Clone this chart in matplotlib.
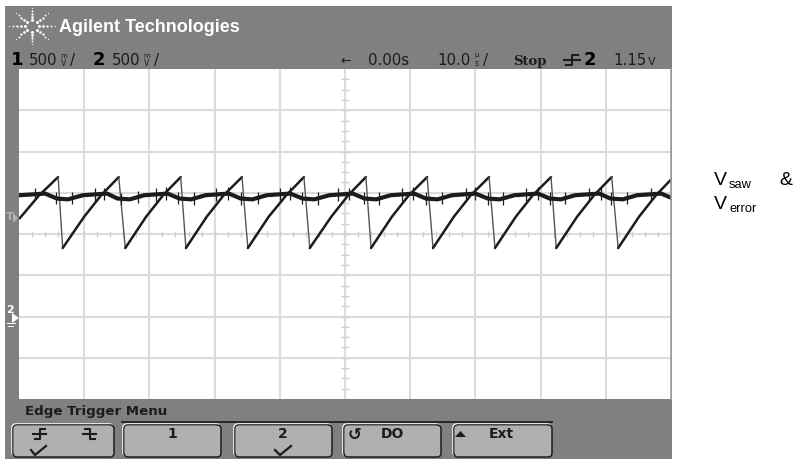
import matplotlib
matplotlib.use('Agg')
import matplotlib.pyplot as plt
from matplotlib.patches import FancyBboxPatch, Rectangle, Polygon
import numpy as np

# Saw trace: microseconds / volts around screen centre
saw_t = [-49.9, -46.9, -44.0, -43.3, -40.0, -37.4, -34.7, -33.7, -30.5, -27.9,
         -25.2, -24.4, -21.2, -18.6, -15.8, -14.9, -11.7, -9.0, -6.3, -5.4,
         -2.1, 0.5, 3.2, 4.0, 7.2, 9.8, 12.6, 13.5, 16.7, 19.3,
         22.1, 23.0, 26.2, 28.8, 31.6, 32.4, 35.6, 38.2, 40.9, 41.9,
         45.1, 47.7, 50.0]
saw_v = [0.19, 0.47, 0.69, -0.17, 0.21, 0.47, 0.69, -0.17, 0.21, 0.47,
         0.69, -0.17, 0.21, 0.47, 0.69, -0.17, 0.21, 0.47, 0.69, -0.17,
         0.21, 0.47, 0.69, -0.17, 0.21, 0.47, 0.69, -0.17, 0.21, 0.47,
         0.69, -0.17, 0.21, 0.47, 0.69, -0.17, 0.21, 0.47, 0.69, -0.17,
         0.21, 0.47, 0.66]
valley_idx = [3, 7, 11, 15, 19, 23, 27, 31, 35, 39]

# Error trace: nearly flat, short dip just after every saw peak
err_t = [-49.9, -46.0, -44.2, -42.5, -40.2, -36.5, -34.9, -33.0, -30.8, -27.2,
         -25.4, -23.6, -21.4, -17.8, -16.0, -14.2, -12.0, -8.4, -6.5, -4.7,
         -2.4, 1.2, 3.0, 4.8, 7.0, 10.6, 12.4, 14.2, 16.4, 20.0,
         21.9, 23.7, 26.0, 29.6, 31.4, 33.1, 35.3, 39.0, 40.7, 42.6,
         44.8, 48.5, 50.0]
err_v = [0.47, 0.49, 0.43, 0.42, 0.47, 0.49, 0.43, 0.42, 0.47, 0.49,
         0.43, 0.42, 0.47, 0.49, 0.43, 0.42, 0.47, 0.49, 0.43, 0.42,
         0.47, 0.49, 0.43, 0.42, 0.47, 0.49, 0.43, 0.42, 0.47, 0.49,
         0.43, 0.42, 0.47, 0.49, 0.43, 0.42, 0.47, 0.49, 0.43, 0.42,
         0.47, 0.49, 0.44]
spike_t = [-47.6, -44.3, -41.9, -38.4, -37.0, -34.4, -31.7, -29.0, -27.4, -25.6,
           -23.2, -19.8, -18.0, -15.9, -13.4, -10.0, -8.4, -6.6, -4.2, -1.0,
           0.6, 2.9, 5.2, 8.8, 10.4, 12.4, 14.9, 18.6, 20.0, 21.9,
           24.2, 27.8, 29.6, 31.4, 33.8, 37.4, 39.2, 40.8, 43.2, 46.9]

menu_labels = ['', '1', '2', 'DO', 'Ext']
label_x = [0, 172, 283, 392, 501]
btn_left = [12, 123, 234, 343, 453]
btn_right = [114, 221, 332, 441, 552]

GRAY = '#808080'
DARK = '#1c1c1c'

fig = plt.figure(figsize=(7.93, 4.59), dpi=100)
bg = fig.add_axes([0, 0, 1, 1])
bg.set_xlim(0, 793)
bg.set_ylim(459, 0)
bg.axis('off')

# instrument frame
bg.add_patch(Rectangle((5, 6), 667, 453, fc=GRAY, ec='none'))

# logo dots
logo_ang = np.deg2rad(np.arange(0, 360, 45))
logo_rad = [7, 11, 15, 19, 23]
for r in logo_rad:
    bg.scatter(32 + r * np.cos(logo_ang), 26 + r * np.sin(logo_ang) * 0.8,
               s=(26 - r) * 0.25, c='white', linewidths=0)
bg.text(59, 27, 'Agilent Technologies', color='white', fontsize=13, fontweight='bold',
        family='Liberation Sans', va='center', ha='left')


def label(x, txt, size=10.8, **kw):
    bg.text(x, 65, txt, fontsize=size, color=kw.pop('color', DARK), ha='left', va='baseline', **kw)


def stacked(x, top, bottom):
    bg.text(x, 57.5, top, fontsize=5, ha='center', va='baseline', color=DARK)
    bg.text(x, 66, bottom, fontsize=5.5, ha='center', va='baseline', color=DARK)


# status line
label(11, '1', 13, fontweight='bold', color='black')
label(29, '500')
stacked(64, 'm', 'V')
label(70, '/')
label(93, '2', 13, fontweight='bold', color='black')
label(112, '500')
stacked(147, 'm', 'V')
label(154, '/')
label(340, '←', 9)
label(368, '0.00s')
label(437, '10.0')
stacked(477, 'µ', 's')
label(483, '/')
label(513, 'Stop', 9.5, fontweight='bold', family='DejaVu Serif')
bg.plot([564, 580], [60, 60], color=DARK, lw=1.5)
bg.plot([566, 572, 572, 578], [65, 65, 55, 55], color=DARK, lw=1.5)
label(584, '2', 13, fontweight='bold', color='black')
label(613, '1.15')
label(648, 'V', 8)

# screen
ax = fig.add_axes([19 / 793, 1 - 399 / 459, 652 / 793, 330 / 459])
ax.set_xlim(-50, 50)
ax.set_ylim(-2, 2)
ax.set_xticks(np.arange(-40, 41, 10))
ax.set_yticks(np.arange(-1.5, 1.6, 0.5))
ax.grid(True, color='#dcdcdc', lw=1.5)
ax.tick_params(length=0, labelbottom=False, labelleft=False)
ax.set_axisbelow(True)
for s in ['top', 'left', 'bottom']:
    ax.spines[s].set_visible(False)
ax.spines['right'].set_color('#a0a0a0')
ax.spines['right'].set_linewidth(1.2)

# centre graticule ticks
ax.plot(np.arange(-48, 50, 2), np.zeros(49), '|', color='#d0d0d0', ms=5, mew=1)
ax.plot(np.zeros(31), np.arange(-1.875, 1.9, 0.125), '_', color='#d0d0d0', ms=6, mew=1)

# traces: thin falling edges, thick rising parts
start = 0
for i in valley_idx + [len(saw_t)]:
    ax.plot(saw_t[start:i], saw_v[start:i], color=DARK, lw=1.8, solid_capstyle='round')
    if i < len(saw_t):
        ax.plot(saw_t[i - 1:i + 1], saw_v[i - 1:i + 1], color='#555555', lw=1)
    start = i
ax.plot(err_t, err_v, color=DARK, lw=3)
ax.vlines(spike_t, np.interp(spike_t, err_t, err_v) - 0.075,
          np.interp(spike_t, err_t, err_v) + 0.075, color=DARK, lw=0.9)

# edge markers
bg.add_patch(Polygon([[80, 69], [88, 69], [84, 74]], fc=GRAY, ec='none', zorder=5))
bg.text(6, 217, 'T', color='#b4b4b4', fontsize=8, fontweight='bold', va='center', zorder=5)
bg.add_patch(Polygon([[13, 213], [18, 218], [13, 223]], fc='#b4b4b4', ec='none', zorder=5))
bg.text(6, 310, '2', color='white', fontsize=8, fontweight='bold', va='center', zorder=5)
bg.add_patch(Polygon([[12, 313], [19, 318], [12, 323]], fc='white', ec='none', zorder=5))
bg.plot([7, 15], [323, 323], color='white', lw=0.8)
bg.plot([8, 13], [326, 326], color='white', lw=0.7)

# softkey menu
bg.text(25, 412, 'Edge Trigger Menu', fontsize=9.6, fontweight='bold', family='DejaVu Sans',
        color=DARK, va='center', ha='left')
bg.plot([122, 552], [422, 422], color='#202020', lw=1.3)
for x0, x1, lab, lx in zip(btn_left, btn_right, menu_labels, label_x):
    bg.add_patch(FancyBboxPatch((x0 + 4, 428), x1 - x0 - 9, 24, boxstyle='round,pad=4',
                                fc='none', ec='#f5f5f5', lw=1.2))
    bg.add_patch(FancyBboxPatch((x0 + 5, 429), x1 - x0 - 9, 24, boxstyle='round,pad=4',
                                fc='#b0b0b0', ec='#1e1e1e', lw=1.1))
    bg.add_patch(FancyBboxPatch((x0 + 5, 429), x1 - x0 - 11, 22, boxstyle='round,pad=3.5',
                                fc='#b0b0b0', ec='none'))
    if lab:
        bg.text(lx, 434, lab, fontsize=10, fontweight='bold', color=DARK, ha='center', va='center')

# softkey symbols
bg.plot([33, 46], [434, 434], color=DARK, lw=1.5)
bg.plot([35, 40, 40, 45], [439, 439, 429, 429], color=DARK, lw=1.5)
bg.plot([83, 96], [434, 434], color=DARK, lw=1.5)
bg.plot([85, 90, 90, 95], [429, 429, 439, 439], color=DARK, lw=1.5)
bg.plot([31, 35, 46], [450, 455, 446], color=DARK, lw=1.6)
bg.plot([275, 280, 291], [450, 455, 446], color=DARK, lw=1.6)
bg.text(355, 435, '↺', fontsize=12, fontweight='bold', color=DARK, ha='center', va='center')
bg.add_patch(Polygon([[455, 437], [466, 437], [460.5, 431]], fc=DARK, ec='none'))

# notes right of the instrument
bg.text(714, 185, 'V', fontsize=14, family='Liberation Sans', color='black', va='baseline')
bg.text(729, 188, 'saw', fontsize=9.3, family='Liberation Sans', color='black', va='baseline')
bg.text(779, 185, '&', fontsize=14, family='Liberation Sans', color='black', va='baseline')
bg.text(714, 209, 'V', fontsize=14, family='Liberation Sans', color='black', va='baseline')
bg.text(729, 212, 'error', fontsize=9.3, family='Liberation Sans', color='black', va='baseline')

fig.savefig('out.png', dpi=100)
